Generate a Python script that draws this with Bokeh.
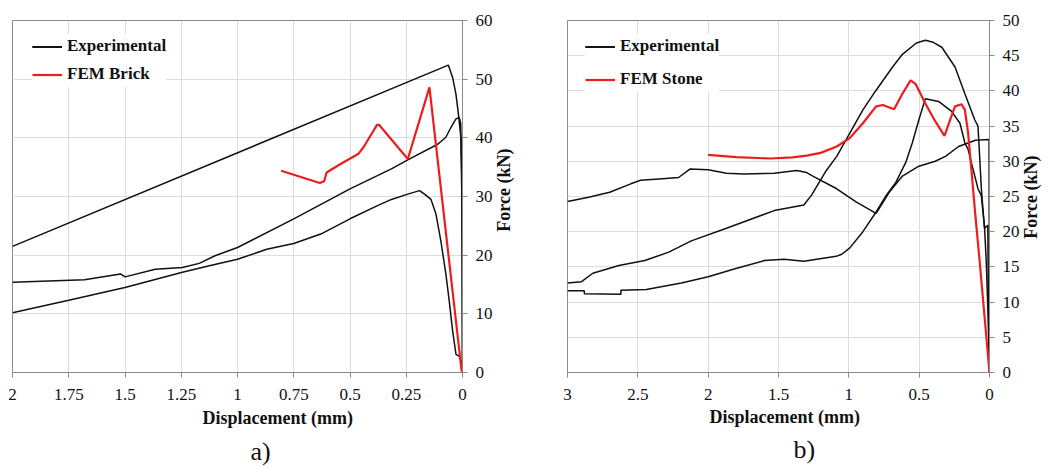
import math
from bokeh.plotting import figure
from bokeh.models import (Range1d, FixedTicker, NumeralTickFormatter, Legend, LegendItem, Title,
                          LinearAxis)
from bokeh.layouts import row
from bokeh.embed import file_html
from bokeh.resources import INLINE

SERIF = "Liberation Serif"

# ---------------- Panel a) data ----------------
a_x_ticks = [2, 1.75, 1.5, 1.25, 1, 0.75, 0.5, 0.25, 0]
a_y_ticks = [0, 10, 20, 30, 40, 50, 60]

a_exp1_x = [0, 0.001, 0.003, 0.007, 0.018, 0.029, 0.044, 0.063, 2.0]
a_exp1_y = [0, 20, 33.8, 40, 44, 47.4, 50.3, 52.4, 21.5]

a_exp2_x = [0, 0.003, 0.008, 0.015, 0.03, 0.051, 0.074, 0.11, 0.235, 0.316, 0.5, 0.75,
            1.0, 1.1, 1.17, 1.245, 1.365, 1.5, 1.52, 1.68, 2.0]
a_exp2_y = [0, 30, 42.5, 43.5, 43.2, 41.8, 40.1, 38.9, 36.4, 34.7, 31.3, 26.2,
            21.3, 19.9, 18.6, 17.9, 17.6, 16.3, 16.8, 15.8, 15.4]

a_exp3_x = [0, 0.007, 0.015, 0.029, 0.044, 0.059, 0.074, 0.096, 0.118, 0.14, 0.169, 0.191,
            0.243, 0.316, 0.38, 0.5, 0.63, 0.75, 0.87, 1.0, 1.125, 1.245, 1.5, 1.75, 2.0]
a_exp3_y = [0, 2.0, 2.8, 3.1, 7.1, 12.2, 16.8, 22.4, 27, 29.5, 30.4, 31,
            30.4, 29.5, 28.4, 26.2, 23.6, 22.0, 21.0, 19.3, 18.2, 17.1, 14.5, 12.3, 10.2]

a_fem_x = [0.806, 0.634, 0.615, 0.604, 0.544, 0.462, 0.44, 0.38, 0.37, 0.243, 0.147, 0.004, 0.0]
a_fem_y = [34.4, 32.3, 32.6, 34.1, 35.5, 37.3, 38.4, 42.2, 42.2, 36.4, 48.6, 0.3, 0.0]

# ---------------- Panel b) data ----------------
b_x_ticks = [3, 2.5, 2, 1.5, 1, 0.5, 0]
b_y_ticks = [0, 5, 10, 15, 20, 25, 30, 35, 40, 45, 50]

b_exp1_x = [0, 0.01, 0.023, 0.035, 0.047, 0.058, 0.07, 0.082, 0.105, 0.175, 0.245, 0.339, 0.40,
            0.456, 0.52, 0.619, 0.689, 0.806, 0.9, 0.993, 1.086, 1.16, 1.265, 1.32, 1.53,
            1.87, 2.12, 2.28, 2.45, 2.635, 2.82, 2.9, 3.0]
b_exp1_y = [0, 8, 15.8, 20.5, 23.3, 26.1, 30.7, 35, 35.9, 39.6, 43.4, 46.2, 46.9,
            47.2, 46.8, 45.2, 43.4, 40.1, 37.3, 34, 30.7, 28.7, 25.2, 23.8, 23,
            20.5, 18.7, 17.1, 15.9, 15.2, 14.1, 12.9, 12.7]

b_exp2_x = [0, 0.008, 0.012, 0.035, 0.058, 0.082, 0.093, 0.129, 0.152, 0.175, 0.21, 0.269,
            0.362, 0.456, 0.502, 0.549, 0.596, 0.666, 0.736, 0.806, 0.9, 0.993, 1.05, 1.09,
            1.32, 1.46, 1.6, 1.815, 2.0, 2.19, 2.44, 2.62, 2.621, 2.88, 2.881, 3.0]
b_exp2_y = [0, 10, 20.9, 20.5, 25.1, 26.1, 27, 29.8, 31.7, 32.6, 35.4, 37.1,
            38.5, 38.9, 35.9, 32.6, 29.8, 27, 25.1, 22.8, 20, 17.7, 16.8, 16.5,
            15.8, 16.1, 15.9, 14.7, 13.6, 12.7, 11.8, 11.7, 11.1, 11.2, 11.6, 11.6]

b_exp3_x = [0, 0.003, 0.1, 0.22, 0.313, 0.386, 0.502, 0.619, 0.713, 0.806, 0.946, 1.086,
            1.256, 1.3, 1.37, 1.53, 1.745, 1.87, 2.0, 2.13, 2.21, 2.35, 2.48, 2.55, 2.7,
            2.85, 3.0]
b_exp3_y = [0, 33.1, 33.0, 32.1, 30.7, 30.0, 29.3, 27.9, 25.6, 22.6, 24.2, 26.1,
            27.9, 28.4, 28.7, 28.3, 28.2, 28.3, 28.8, 28.9, 27.7, 27.5, 27.3, 26.8, 25.6,
            24.9, 24.3]

b_fem_x = [2.0, 1.8, 1.56, 1.4, 1.3, 1.2, 1.086, 0.993, 0.9, 0.806, 0.759, 0.678, 0.619,
           0.561, 0.526, 0.456, 0.386, 0.32, 0.28, 0.245, 0.199, 0.175, 0.152, 0.129,
           0.105, 0.07, 0.0]
b_fem_y = [30.9, 30.6, 30.4, 30.55, 30.8, 31.2, 32.1, 33.3, 35.4, 37.8, 38.0, 37.4, 39.6,
           41.5, 41.0, 38.2, 35.7, 33.6, 35.9, 37.8, 38.1, 37.3, 34.0, 28.9,
           23.3, 15.8, 0.0]

AXIS_GRAY = "#8a8a8a"
GRID_GRAY = "#dcdcdc"
EXP_COLOR = "#111111"
FEM_COLOR = "#ee1c1c"


def make_panel(width, height, left, right, top, bottom, xmax, ymax, xticks, yticks,
               ylab_standoff, title_y, title_standoff):
    p = figure(width=width, height=height, x_range=Range1d(xmax, 0), y_range=Range1d(0, ymax),
               y_axis_location="right", output_backend="svg", toolbar_location=None,
               min_border_left=left, min_border_right=right, min_border_top=top,
               min_border_bottom=bottom)
    p.background_fill_color = "white"
    p.border_fill_color = "white"
    p.outline_line_color = AXIS_GRAY
    p.outline_line_width = 1
    p.xaxis.ticker = FixedTicker(ticks=xticks)
    p.yaxis.ticker = FixedTicker(ticks=yticks)
    p.xaxis.formatter = NumeralTickFormatter(format="0.[00]")
    for ax in (p.xaxis, p.yaxis):
        ax.axis_line_color = AXIS_GRAY
        ax.major_tick_line_color = AXIS_GRAY
        ax.major_tick_out = 5
        ax.major_tick_in = 0
        ax.minor_tick_line_color = None
        ax.minor_tick_out = 0
        ax.minor_tick_in = 0
        ax.major_label_text_font = SERIF
        ax.major_label_text_font_size = "17px"
        ax.major_label_text_color = "#111111"
    p.xaxis.major_label_standoff = 11
    p.yaxis.major_label_standoff = ylab_standoff
    p.xgrid.grid_line_color = GRID_GRAY
    p.ygrid.grid_line_color = GRID_GRAY

    # y-axis title, drawn as the single rotated label of an extra right-hand axis
    tax = LinearAxis(ticker=FixedTicker(ticks=[title_y]),
                     major_label_overrides={title_y: "Force (kN)"},
                     major_label_orientation=math.pi / 2,
                     major_label_standoff=title_standoff,
                     major_label_text_font=SERIF, major_label_text_font_size="18px",
                     major_label_text_font_style="bold", major_label_text_color="#111111",
                     axis_line_color=None, major_tick_line_color=None,
                     minor_tick_line_color=None, major_tick_out=0, major_tick_in=0,
                     minor_tick_out=0, minor_tick_in=0)
    p.add_layout(tax, "right")
    return p


def add_titles(p, x_off, letter_off, letter, st1, st2):
    p.add_layout(Title(text="Displacement (mm)", align="left", offset=x_off, standoff=st1,
                       text_font=SERIF, text_font_size="18px", text_font_style="bold",
                       text_color="#111111"), "below")
    p.add_layout(Title(text=letter, align="left", offset=letter_off, standoff=st2,
                       text_font=SERIF, text_font_size="26px", text_font_style="normal",
                       text_color="#111111"), "below")


def add_legend(p, exp_r, fem_r, fem_name, loc, spacing):
    leg = Legend(items=[LegendItem(label="Experimental", renderers=exp_r),
                        LegendItem(label=fem_name, renderers=[fem_r])],
                 location=loc)
    leg.label_text_font = SERIF
    leg.label_text_font_size = "17px"
    leg.label_text_font_style = "bold"
    leg.label_text_color = "#111111"
    leg.glyph_width = 30
    leg.glyph_height = 25
    leg.label_height = 25
    leg.label_standoff = 5
    leg.spacing = spacing
    leg.padding = 5
    leg.margin = 0
    leg.border_line_color = None
    leg.background_fill_color = "white"
    leg.background_fill_alpha = 1
    p.add_layout(leg)


# ---------------- Panel a ----------------
pa = make_panel(527, 470, 12, 65, 20, 98, 2, 60, a_x_ticks, a_y_ticks, 8, 24, 9)
r1 = pa.line(a_exp1_x, a_exp1_y, line_color=EXP_COLOR, line_width=1.5)
r2 = pa.line(a_exp2_x, a_exp2_y, line_color=EXP_COLOR, line_width=1.5)
r3 = pa.line(a_exp3_x, a_exp3_y, line_color=EXP_COLOR, line_width=1.5)
rf = pa.line(a_fem_x, a_fem_y, line_color=FEM_COLOR, line_width=2.2)
add_legend(pa, [r1, r2, r3], rf, "FEM Brick", (20, 285.5), 3)
add_titles(pa, 190, 238, "a)", 6, 9)

# ---------------- Panel b (same right-side configuration as panel a) ----------------
pb = make_panel(527, 470, 40, 65, 15, 96, 3, 50, b_x_ticks, b_y_ticks, 8, 19, 9)
s1 = pb.line(b_exp1_x, b_exp1_y, line_color=EXP_COLOR, line_width=1.5)
s2 = pb.line(b_exp2_x, b_exp2_y, line_color=EXP_COLOR, line_width=1.5)
s3 = pb.line(b_exp3_x, b_exp3_y, line_color=EXP_COLOR, line_width=1.5)
sf = pb.line(b_fem_x, b_fem_y, line_color=FEM_COLOR, line_width=2.2)
add_legend(pb, [s1, s2, s3], sf, "FEM Stone", (18, 280.5), 8)
add_titles(pb, 142, 226, "b)", 5, 7)

layout = row(pa, pb)
open("out.html", "w").write(file_html(layout, INLINE))
